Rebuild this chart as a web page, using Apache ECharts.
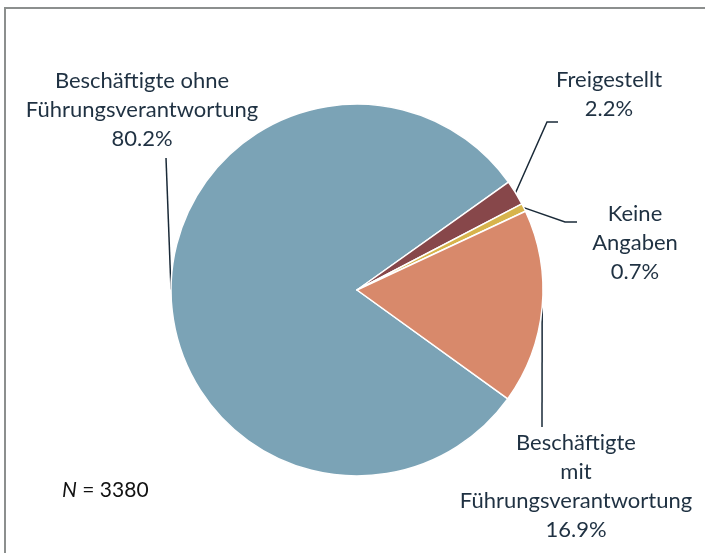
<!DOCTYPE html>
<html>
<head>
<meta charset="utf-8">
<script src="https://cdn.jsdelivr.net/npm/echarts@6/dist/echarts.min.js"></script>
<style>
  html, body { margin: 0; padding: 0; background: #fff; }
  #chart { width: 705px; height: 553px; }
</style>
</head>
<body>
<div id="chart"></div>
<script>
// Kategorien und Anteile (%)
const categories = [
  'Beschäftigte ohne\nFührungsverantwortung',
  'Freigestellt',
  'Keine\nAngaben',
  'Beschäftigte\nmit\nFührungsverantwortung'
];
const shares = [80.2, 2.2, 0.7, 16.9];
const colors = ['#7ba3b6', '#87474a', '#d7b44c', '#d8896b'];
const sampleSize = 3380;

// Label-Mittelpunkte und Knickpunkte der Führungslinien
const labelSpots = [
  { x: 142, y: 110, line: [[166, 158]] },
  { x: 609, y: 94, line: [[547, 122], [558, 122]] },
  { x: 635, y: 243, line: [[565, 222], [577, 222]] },
  { x: 576, y: 486, line: [[542, 427]] }
];

const chart = echarts.init(document.getElementById('chart'));

chart.setOption({
  animation: false,
  textStyle: { fontFamily: 'Lato' },
  graphic: [
    {
      type: 'rect',
      shape: { x: 5, y: 8, width: 760, height: 620 },
      style: { fill: 'none', stroke: '#8c8f8e', lineWidth: 2 },
      silent: true
    },
    {
      type: 'text',
      left: 62,
      top: 480,
      style: {
        text: '{i|N} = ' + sampleSize,
        fontSize: 21,
        fill: '#111',
        fontFamily: 'Lato',
        rich: { i: { fontStyle: 'italic', fontSize: 21, fill: '#111', fontFamily: 'Lato' } }
      }
    }
  ],
  series: [
    {
      type: 'pie',
      center: [357, 290],
      radius: 186,
      startAngle: -35.8,
      clockwise: true,
      avoidLabelOverlap: false,
      itemStyle: { borderColor: '#fff', borderWidth: 1.5 },
      label: {
        show: true,
        formatter: (p) => p.name + '\n' + p.value.toFixed(1) + '%',
        color: '#1f3142',
        fontSize: 22,
        lineHeight: 29,
        align: 'center'
      },
      labelLine: {
        show: true,
        length: 10,
        length2: 10,
        lineStyle: { color: '#1a2a38', width: 1.5 }
      },
      labelLayout: (params) => {
        const spot = labelSpots[params.dataIndex];
        const start = params.labelLinePoints ? params.labelLinePoints[0] : spot.line[0];
        return {
          x: spot.x,
          y: spot.y,
          align: 'center',
          verticalAlign: 'middle',
          labelLinePoints: [start].concat(spot.line)
        };
      },
      data: categories.map((name, i) => ({
        name: name,
        value: shares[i],
        itemStyle: { color: colors[i] }
      }))
    }
  ]
});
</script>
</body>
</html>
